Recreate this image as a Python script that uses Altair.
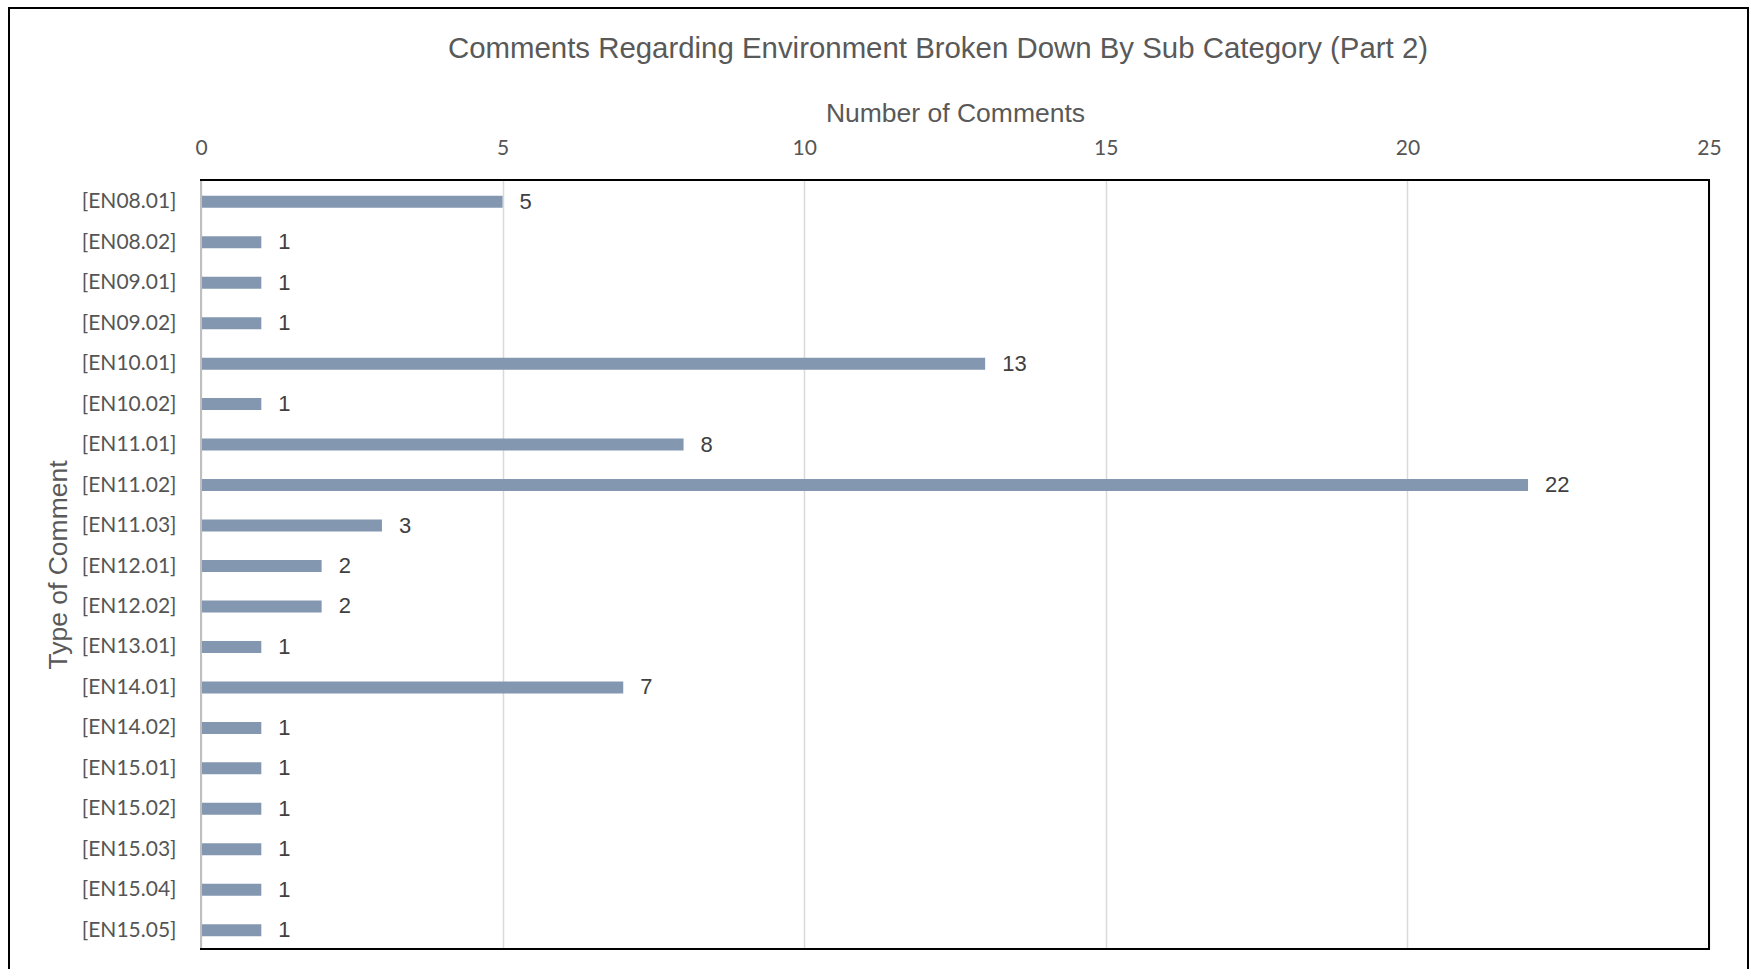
import altair as alt
import pandas as pd

categories = ["[EN08.01]", "[EN08.02]", "[EN09.01]", "[EN09.02]", "[EN10.01]",
              "[EN10.02]", "[EN11.01]", "[EN11.02]", "[EN11.03]", "[EN12.01]",
              "[EN12.02]", "[EN13.01]", "[EN14.01]", "[EN14.02]", "[EN15.01]",
              "[EN15.02]", "[EN15.03]", "[EN15.04]", "[EN15.05]"]
counts = [5, 1, 1, 1, 13, 1, 8, 22, 3, 2, 2, 1, 7, 1, 1, 1, 1, 1, 1]
x_ticks = [0, 5, 10, 15, 20, 25]

df = pd.DataFrame({"category": categories, "count": counts})

W, H = 1508, 769

y_enc = alt.Y("category:N", sort=categories, title="Type of Comment",
              scale=alt.Scale(paddingInner=0, paddingOuter=0),
              axis=alt.Axis(labelFont="Lato", labelFontSize=21, labelColor="#555555",
                            labelPadding=25, labelOffset=2, ticks=False, domain=False,
                            grid=False,
                            titleFont="Liberation Sans", titleFontSize=26.5,
                            titleFontWeight="normal", titleColor="#595959",
                            titlePadding=9))
x_enc = alt.X("count:Q", title="Number of Comments",
              scale=alt.Scale(domain=[0, 25], nice=False),
              axis=alt.Axis(orient="top", values=x_ticks, format="d", labelFont="Lato",
                            labelFontSize=21, labelColor="#555555", labelPadding=21.5,
                            labelFlush=False, ticks=False, domain=False, grid=True,
                            gridColor="#d9d9d9", gridWidth=1.5,
                            titleFont="Liberation Sans", titleFontSize=26.5,
                            titleFontWeight="normal", titleColor="#595959",
                            titlePadding=10))

base = alt.Chart(df)
bars = base.mark_bar(size=12, color="#8497B0", yOffset=1.5).encode(x=x_enc, y=y_enc)
labels = base.mark_text(align="left", baseline="middle", dx=17, dy=1.5, fontSize=22,
                        font="Liberation Sans", color="#404040").encode(
    x="count:Q", y=alt.Y("category:N", sort=categories), text="count:Q")

# black frame around the plot area (drawn above the grid)
frame = alt.Chart(pd.DataFrame({"a": [0]})).mark_rect(
    filled=False, stroke="black", strokeWidth=2).encode(
    x=alt.value(0), x2=alt.value(W), y=alt.value(0), y2=alt.value(H))
left_line = alt.Chart(pd.DataFrame({"a": [0]})).mark_rule(
    color="#bfbfbf", strokeWidth=2).encode(
    x=alt.value(0), y=alt.value(1), y2=alt.value(H - 1))

# outer chart border
border = alt.Chart(pd.DataFrame({"a": [0]})).mark_rect(
    filled=False, stroke="black", strokeWidth=2).encode(
    x=alt.value(-192), x2=alt.value(1547), y=alt.value(-172), y2=alt.value(850))

chart = alt.layer(bars, labels, frame, left_line, border).properties(
    width=W, height=H,
    title=alt.TitleParams(
        text="Comments Regarding Environment Broken Down By Sub Category (Part 2)",
        font="Liberation Sans", fontSize=29.4, fontWeight="normal", color="#595959",
        anchor="middle", offset=-57, dx=-17),
    autosize=alt.AutoSizeParams(type="none"),
    padding={"left": 201, "top": 180, "right": 42, "bottom": 20},
    background="white",
).configure_view(stroke=None)

chart.save("out.html", embed_options={"renderer": "svg", "actions": False})
